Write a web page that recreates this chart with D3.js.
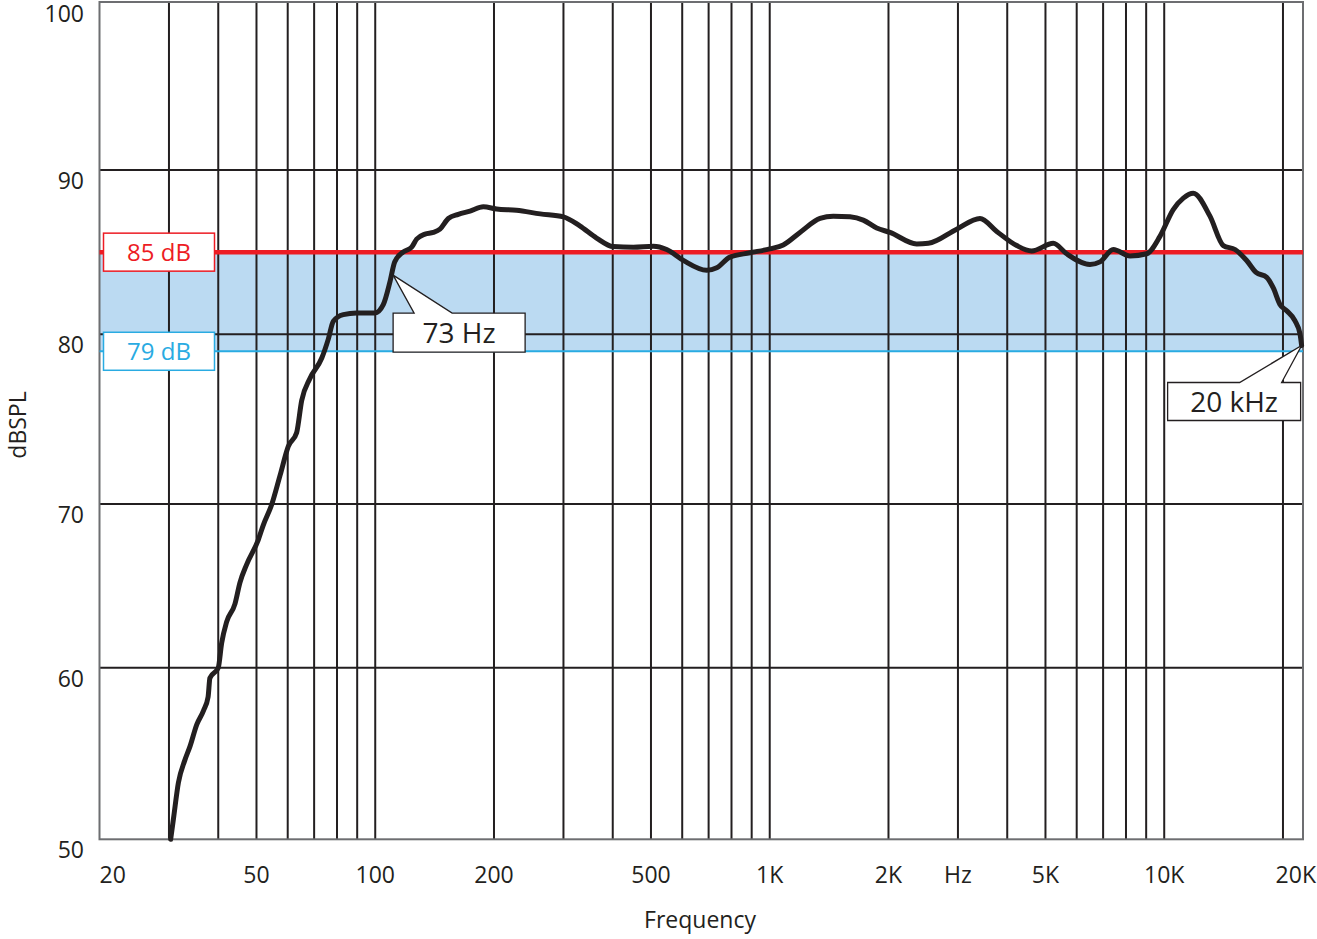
<!DOCTYPE html>
<html>
<head>
<meta charset="utf-8">
<script src="https://cdn.jsdelivr.net/npm/d3@7/dist/d3.min.js"></script>
<style>
    body { margin: 0; background: #fff; }
    svg text { font-family: "Open Sans", "Noto Sans", sans-serif; fill: #231f20; }
</style>
</head>
<body>
<div id="chart"></div>
<script>
var freqs = [30.3, 30.8, 31.7, 32.9, 33.9, 35.3, 36.7, 37.7, 38.1, 40.0,
    40.8, 42.0, 44.1, 45.4, 47.2, 50.5, 52.0, 54.7, 57.4, 60.2,
    63.2, 65.1, 68.3, 73.2, 76.0, 78.3, 83.0, 89.7, 99.9, 104.8,
    109, 112, 117.6, 123.7, 127.4, 133.7, 140.3, 145.9, 153.2, 162.4,
    173.9, 187.9, 203, 228, 262, 300, 330, 364, 401, 451,
    507, 548, 604, 692, 734, 793, 891, 1001, 1082, 1193,
    1341, 1449, 1598, 1726, 1867, 2018, 2358, 2524, 2978, 3412,
    3762, 4227, 4613, 5234, 5658, 6484, 6874, 7429, 8191, 9028,
    9754, 10540, 11180, 11850, 13060, 14120, 15120, 16180, 17090, 18190,
    18900, 19650, 20440, 21440, 22090, 22300];
var levels = [50.0, 51.2, 53.3, 54.6, 55.4, 56.7, 57.5, 58.3, 59.4, 60.0,
    61.5, 62.8, 63.9, 65.2, 66.3, 67.8, 68.7, 70.0, 71.7, 73.4,
    74.2, 76.1, 77.4, 78.6, 79.7, 80.8, 81.2, 81.3, 81.3, 81.8,
    83.2, 84.4, 85.0, 85.3, 85.8, 86.1, 86.2, 86.4, 87.05, 87.3,
    87.5, 87.76, 87.63, 87.55, 87.33, 87.15, 86.6, 85.86, 85.34, 85.3,
    85.36, 85.16, 84.5, 83.9, 84.05, 84.7, 84.96, 85.2, 85.44, 86.2,
    87.05, 87.19, 87.15, 86.95, 86.47, 86.2, 85.5, 85.54, 86.4, 87.05,
    86.26, 85.4, 85.07, 85.54, 84.9, 84.25, 84.41, 85.16, 84.77, 84.9,
    85.96, 87.59, 88.29, 88.59, 87.19, 85.4, 85.16, 84.49, 83.77, 83.47,
    82.82, 81.82, 81.43, 80.83, 80.03, 79.34];

var levelGrid = [60, 70, 80, 90];
var levelLabels = [50, 60, 70, 80, 90, 100];
var freqGrid = [30, 40, 50, 60, 70, 80, 90, 100, 200, 300, 400, 500, 600, 700, 800, 900,
    1000, 2000, 3000, 4000, 5000, 6000, 7000, 8000, 9000, 10000, 20000];
var freqTicks = [20, 50, 100, 200, 500, 1000, 2000, 3000, 5000, 10000, 20000];
var freqTickLabels = ["20", "50", "100", "200", "500", "1K", "2K", "Hz", "5K", "10K", "20K"];

var refLevels = [85, 79];
var refLabels = ["85 dB", "79 dB"];

var noteLabels = ["73 Hz", "20 kHz"];
var noteFreqs = [111, 22300];
var noteLevels = [83.6, 79.34];

var app = app || {};

app.ResponseChart = (function () {
    'use strict';

    var init = function (baseElement) {
        var config = configure(d3.select(baseElement));
        structure(config);
        band(config);
        grid(config);
        refLines(config);
        curve(config);
        notes(config);
        return config;
    };

    var configure = function (base) {
        var m = { width: 1317, height: 939, left: 99.5, right: 1303, top: 2, bottom: 839.3 };
        return {
            base: base,
            m: m,
            x: d3.scaleLog().domain([20, 22480]).range([m.left, m.right]),
            // the printed grid is not evenly spaced, so follow it decade by decade
            y: d3.scaleLinear().domain(levelLabels).range([m.bottom, 667.7, 504, 334.3, 170, m.top]),
            colors: {
                ink: "#231f20",
                frame: "#6d6e71",
                red: "#ed1c24",
                cyan: "#29abe2",
                band: "#bbdaf2"
            }
        };
    };

    var structure = function (config) {
        config.svg = config.base.append("svg")
            .attr("width", config.m.width)
            .attr("height", config.m.height);
    };

    var band = function (config) {
        var y = config.y;
        config.svg.append("rect")
            .attr("x", config.m.left)
            .attr("y", y(refLevels[0]))
            .attr("width", config.m.right - config.m.left)
            .attr("height", y(refLevels[1]) - y(refLevels[0]))
            .attr("fill", config.colors.band);
    };

    var grid = function (config) {
        var svg = config.svg, x = config.x, y = config.y, m = config.m;

        svg.append("g").selectAll("line").data(freqGrid).enter()
            .append("line")
            .attr("x1", function (d) { return x(d); })
            .attr("x2", function (d) { return x(d); })
            .attr("y1", m.top)
            .attr("y2", m.bottom)
            .attr("stroke", config.colors.ink)
            .attr("stroke-width", 2);

        svg.append("g").selectAll("line").data(levelGrid).enter()
            .append("line")
            .attr("x1", m.left)
            .attr("x2", m.right)
            .attr("y1", function (d) { return y(d); })
            .attr("y2", function (d) { return y(d); })
            .attr("stroke", config.colors.ink)
            .attr("stroke-width", 2);

        // frame
        svg.append("rect")
            .attr("x", m.left)
            .attr("y", m.top)
            .attr("width", m.right - m.left)
            .attr("height", m.bottom - m.top)
            .attr("fill", "none")
            .attr("stroke", config.colors.frame)
            .attr("stroke-width", 2);

        svg.append("g").selectAll("text").data(levelLabels).enter()
            .append("text")
            .attr("x", 84)
            .attr("y", function (d) { return Math.max(y(d) + 19, 22); })
            .attr("text-anchor", "end")
            .attr("font-size", 23)
            .text(function (d) { return d; });

        svg.append("g").selectAll("text").data(freqTicks).enter()
            .append("text")
            .attr("x", function (d, i) {
                if (i === 0) { return m.left; }
                if (i === freqTicks.length - 1) { return m.width - 1; }
                return x(d);
            })
            .attr("y", 883)
            .attr("text-anchor", function (d, i) {
                if (i === 0) { return "start"; }
                if (i === freqTicks.length - 1) { return "end"; }
                return "middle";
            })
            .attr("font-size", 23)
            .text(function (d, i) { return freqTickLabels[i]; });

        svg.append("text")
            .attr("x", 700)
            .attr("y", 928)
            .attr("text-anchor", "middle")
            .attr("font-size", 23)
            .text("Frequency");

        svg.append("text")
            .attr("transform", "translate(26,425) rotate(-90)")
            .attr("text-anchor", "middle")
            .attr("font-size", 23)
            .text("dBSPL");
    };

    var refLines = function (config) {
        var svg = config.svg, y = config.y, m = config.m;
        var colors = [config.colors.red, config.colors.cyan];
        var widths = [4.5, 2];

        var g = svg.append("g").selectAll("g").data(refLevels).enter().append("g");

        g.append("line")
            .attr("x1", m.left)
            .attr("x2", m.right)
            .attr("y1", function (d) { return y(d); })
            .attr("y2", function (d) { return y(d); })
            .attr("stroke", function (d, i) { return colors[i]; })
            .attr("stroke-width", function (d, i) { return widths[i]; });

        g.append("rect")
            .attr("x", m.left + 4)
            .attr("y", function (d) { return y(d) - 19; })
            .attr("width", 111)
            .attr("height", 38)
            .attr("fill", "#fff")
            .attr("stroke", function (d, i) { return colors[i]; })
            .attr("stroke-width", 1.5);

        g.append("text")
            .attr("x", m.left + 59.5)
            .attr("y", function (d) { return y(d) + 9; })
            .attr("text-anchor", "middle")
            .attr("font-size", 24)
            .style("fill", function (d, i) { return colors[i]; })
            .text(function (d, i) { return refLabels[i]; });
    };

    var curve = function (config) {
        var x = config.x, y = config.y;
        var line = d3.line()
            .x(function (d, i) { return x(freqs[i]); })
            .y(function (d, i) { return y(levels[i]); })
            .curve(d3.curveMonotoneX);

        config.svg.append("path")
            .attr("d", line(freqs))
            .attr("fill", "none")
            .attr("stroke", config.colors.ink)
            .attr("stroke-width", 5)
            .attr("stroke-linejoin", "round")
            .attr("stroke-linecap", "round");
    };

    var notes = function (config) {
        var x = config.x, y = config.y;
        // box placement relative to the pointed-at point
        var layout = [
            { dx: 0, dy: 38, w: 132, h: 39, b0: 21, b1: 59 },
            { dx: -134, dy: 37, w: 133, h: 38, b0: 72, b1: 114 }
        ];

        noteLabels.forEach(function (label, i) {
            var tx = x(noteFreqs[i]), ty = y(noteLevels[i]), L = layout[i];
            var x0 = tx + L.dx, y0 = ty + L.dy;
            var path = d3.path();
            path.moveTo(x0, y0);
            path.lineTo(x0 + L.b0, y0);
            path.lineTo(tx, ty);
            path.lineTo(x0 + L.b1, y0);
            path.lineTo(x0 + L.w, y0);
            path.lineTo(x0 + L.w, y0 + L.h);
            path.lineTo(x0, y0 + L.h);
            path.closePath();

            config.svg.append("path")
                .attr("d", path.toString())
                .attr("fill", "#fff")
                .attr("stroke", config.colors.ink)
                .attr("stroke-width", 1.3)
                .attr("stroke-linejoin", "miter");

            config.svg.append("text")
                .attr("x", x0 + L.w / 2)
                .attr("y", y0 + L.h / 2 + 10)
                .attr("text-anchor", "middle")
                .attr("font-size", 28)
                .text(label);
        });
    };

    return {
        init: init
    };
}());

app.ResponseChart.init("#chart");
</script>
</body>
</html>
